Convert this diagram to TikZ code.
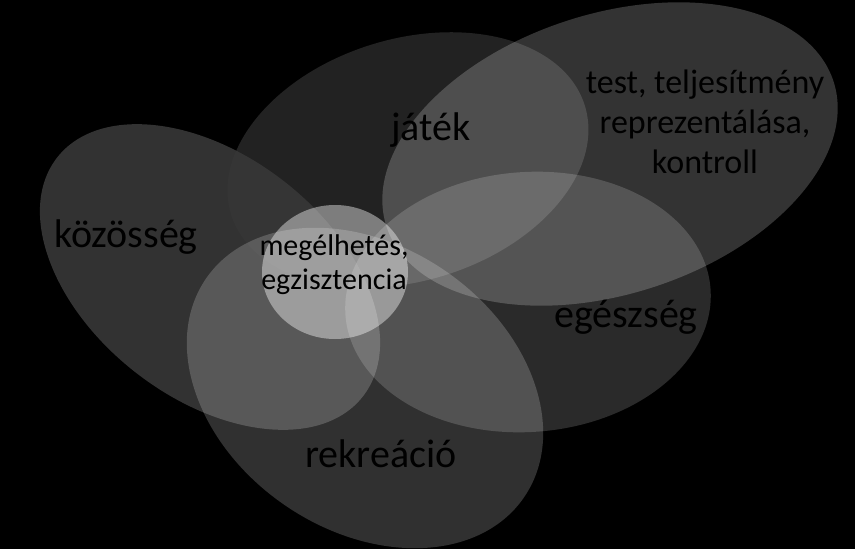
\documentclass[tikz,border=0pt]{standalone}
\usepackage{fontspec}
\setmainfont{Carlito}

\tikzset{
  blob/.style={fill=white, fill opacity=#1},
  biglabel/.style={font=\fontsize{40}{48}\selectfont, text=black, anchor=base, inner sep=0pt},
  midlabel/.style={font=\fontsize{34}{40}\selectfont, text=black, anchor=base, align=center, inner sep=0pt},
  smalllabel/.style={font=\fontsize{30}{34}\selectfont, text=black, anchor=base, align=center, inner sep=0pt}
}

\begin{document}
\begin{tikzpicture}[x=1pt,y=1pt]

    % === Background ===
    \useasboundingbox (0,0) rectangle (855,-549);
    \fill[black] (0,0) rectangle (855,-549);

    % Centres
    \coordinate (jatek) at (408,-160);
    \coordinate (kozosseg) at (210,-277);
    \coordinate (egeszseg) at (528,-302);
    \coordinate (test) at (610,-154);
    \coordinate (rekreacio) at (365,-388);
    \coordinate (megelhetes) at (335,-272);

    % === Ellipses ===
    \fill[blob=0.133, rotate around={17:(jatek)}] (jatek) ellipse [x radius=185, y radius=121];
    \fill[fill={rgb,255:red,56;green,56;blue,56}, fill opacity=0.9, rotate around={-38:(kozosseg)}] (kozosseg) ellipse [x radius=194, y radius=121];
    \fill[blob=0.165, rotate around={4:(egeszseg)}] (egeszseg) ellipse [x radius=183, y radius=130];
    \fill[blob=0.2, rotate around={18:(test)}] (test) ellipse [x radius=235, y radius=140];
    \fill[blob=0.19, rotate around={-34.6:(rekreacio)}] (rekreacio) ellipse [x radius=193, y radius=142];
    \fill[blob=0.41] (megelhetes) ellipse [x radius=73, y radius=67];

    % === Labels ===
    \node[biglabel] (kozosseg-lbl) at (126,-247) {közösség};
    \node[biglabel] (jatek-lbl) at (431,-140) {játék};
    \node[biglabel] (egeszseg-lbl) at (626,-327) {egészség};
    \node[biglabel] (rekreacio-lbl) at (381,-467) {rekreáció};
    \node[midlabel] (test-lbl) at (705,-173) {test, teljesítmény\\reprezentálása,\\kontroll};
    \node[smalllabel] (megelhetes-lbl) at (334,-289) {megélhetés,\\egzisztencia};

\end{tikzpicture}
\end{document}
